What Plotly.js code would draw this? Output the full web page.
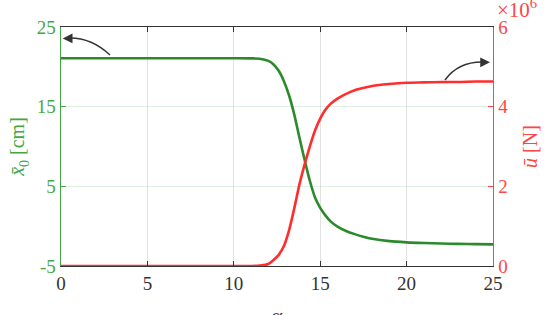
<!DOCTYPE html>
<html>
<head>
<meta charset="utf-8">
<script src="https://cdn.plot.ly/plotly-3.0.1.min.js"></script>
<style>html,body{margin:0;padding:0;background:#fff;}#chart{width:549px;height:315px;}</style>
</head>
<body>
<div id="chart"></div>
<script>
// alpha values
const alpha = [0, 2, 4, 6, 8, 10, 11, 11.5, 12, 12.3, 12.6, 12.9, 13.2, 13.5, 13.8, 14.1, 14.4, 14.7, 15, 15.3, 15.6, 16, 16.5, 17, 17.5, 18, 19, 20, 21, 22, 23, 24, 25];
// x0 bar [cm] (left axis)
const x0 = [21.07, 21.07, 21.07, 21.07, 21.07, 21.07, 21.06, 21.02, 20.75, 20.3, 19.5, 18.2, 16.4, 14.0, 11.1, 8.3, 5.7, 3.6, 2.3, 1.35, 0.6, -0.05, -0.6, -1.0, -1.33, -1.58, -1.88, -2.03, -2.12, -2.18, -2.22, -2.25, -2.28];
// u bar [N] x1e6 (right axis)
const u = [0, 0, 0, 0, 0, 0, 0, 0.01, 0.05, 0.15, 0.28, 0.5, 0.9, 1.45, 2.05, 2.55, 3.0, 3.4, 3.7, 3.92, 4.07, 4.2, 4.32, 4.41, 4.47, 4.52, 4.57, 4.60, 4.61, 4.62, 4.62, 4.63, 4.63];
const xTicks = [0, 5, 10, 15, 20, 25];
const leftTicks = [-5, 5, 15, 25];
const leftTickText = ['-5', '5', '15', '25'];
const rightTicks = [0, 2, 4, 6];

const green = '#2b8a2b';
const greenAx = '#43a843';
const red = '#ff2d2d';
const redAx = '#ff4545';
const dark = '#333333';
const font = '"Liberation Serif", "Times New Roman", serif';

const traces = [
  {x: alpha, y: x0, type: 'scatter', mode: 'lines', line: {color: green, width: 2.6, shape: 'spline', smoothing: 0.8}, yaxis: 'y', hoverinfo: 'skip'},
  {x: alpha, y: u, type: 'scatter', mode: 'lines', line: {color: red, width: 2.6, shape: 'spline', smoothing: 0.8}, yaxis: 'y2', hoverinfo: 'skip'}
];

const layout = {
  width: 549, height: 315,
  margin: {l: 61, r: 56, t: 27, b: 49},
  paper_bgcolor: '#fff', plot_bgcolor: '#fff',
  showlegend: false,
  font: {family: font, size: 19, color: dark},
  xaxis: {
    range: [0, 25], tickvals: xTicks, ticks: 'inside', ticklen: 5, tickwidth: 1.2, tickcolor: dark,
    showline: true, linecolor: dark, linewidth: 1.2, mirror: 'ticks',
    showgrid: true, gridcolor: '#e2e2e2', gridwidth: 1, zeroline: false,
    tickfont: {family: font, size: 19, color: dark}
  },
  yaxis: {
    range: [-5, 25], tickvals: leftTicks, ticktext: leftTickText, ticks: 'inside', ticklen: 5, tickwidth: 1.2, tickcolor: greenAx,
    showline: true, linecolor: greenAx, linewidth: 1.4,
    showgrid: true, gridcolor: 'rgba(67,168,67,0.16)', zeroline: false,
    tickfont: {family: font, size: 19, color: greenAx},
    title: {text: '<i>x̄</i><sub>0</sub> [cm]', font: {family: font, size: 20, color: greenAx}, standoff: 6}
  },
  yaxis2: {
    range: [0, 6], tickvals: rightTicks, ticks: 'inside', ticklen: 5, tickwidth: 1.2, tickcolor: redAx,
    overlaying: 'y', side: 'right', showline: true, linecolor: redAx, linewidth: 1.4,
    showgrid: false, zeroline: false,
    tickfont: {family: font, size: 19, color: redAx},
    title: {text: '<i>ū</i> [N]', font: {family: font, size: 20, color: redAx}, standoff: 15}
  },
  shapes: [
    {type: 'path', xref: 'paper', yref: 'paper', path: 'M 0.1134 0.8828 Q 0.0718 0.954 0.0208 0.954', line: {color: dark, width: 1.5}},
    {type: 'path', xref: 'paper', yref: 'paper', path: 'M 0.8889 0.7782 Q 0.919 0.8536 0.9745 0.8536', line: {color: dark, width: 1.5}}
  ],
  annotations: [
    {xref: 'paper', yref: 'paper', x: 0.004, y: 0.952, ax: 9, ay: 0, text: '', showarrow: true, arrowhead: 2, arrowsize: 1.3, arrowwidth: 1.5, arrowcolor: dark},
    {xref: 'paper', yref: 'paper', x: 0.993, y: 0.852, ax: -9, ay: 0, text: '', showarrow: true, arrowhead: 2, arrowsize: 1.3, arrowwidth: 1.5, arrowcolor: dark},
    {xref: 'paper', yref: 'paper', x: 1.0, y: 1, xanchor: 'left', yanchor: 'bottom', xshift: 2, yshift: 3, text: '×10<sup>6</sup>', showarrow: false, font: {family: font, size: 21, color: redAx}},
    {xref: 'paper', yref: 'paper', x: 0.5, y: 0, xanchor: 'center', yanchor: 'top', yshift: -36, text: '<i>α</i>', showarrow: false, font: {family: font, size: 21, color: dark}}
  ]
};

Plotly.newPlot('chart', traces, layout, {displayModeBar: false, staticPlot: true});
</script>
</body>
</html>
